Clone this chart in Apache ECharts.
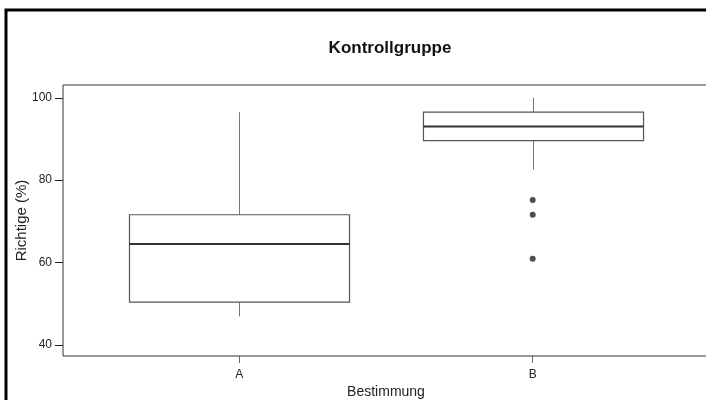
<!DOCTYPE html>
<html>
<head>
<meta charset="utf-8">
<script src="https://cdn.jsdelivr.net/npm/echarts@6/dist/echarts.min.js"></script>
<style>
  html, body { margin: 0; padding: 0; background: #fff; }
  #chart { width: 706px; height: 400px; }
</style>
</head>
<body>
<div id="chart"></div>
<script>
// Daten
var categories = ['A', 'B'];
// [min, Q1, Median, Q3, max]
var boxValues = [
  [46.9, 50.4, 64.5, 71.6, 96.5],
  [82.5, 89.6, 93.0, 96.5, 100.0]
];
// Ausreißer: [Kategorie, Wert]
var outliers = [
  ['B', 75.2],
  ['B', 71.6],
  ['B', 60.9]
];
var yTicks = [40, 60, 80, 100];

var font = 'Liberation Sans, Arial, sans-serif';
var yMin = 37.3, yMax = 103.1;

var boxData = boxValues.map(function (v, i) {
  return [i].concat(v);
});

// Box mit Whiskern ohne Querstriche
function renderBox(params, api) {
  var x = api.value(0);
  var lo = api.coord([x, api.value(1)]);
  var q1 = api.coord([x, api.value(2)]);
  var med = api.coord([x, api.value(3)]);
  var q3 = api.coord([x, api.value(4)]);
  var hi = api.coord([x, api.value(5)]);
  var half = api.size([1, 0])[0] * 0.75 / 2;
  var cx = Math.round(lo[0]) + 0.5;
  return {
    type: 'group',
    children: [
      { type: 'line', shape: { x1: cx, y1: hi[1], x2: cx, y2: q3[1] }, style: { stroke: '#777', lineWidth: 1 } },
      { type: 'line', shape: { x1: cx, y1: q1[1], x2: cx, y2: lo[1] }, style: { stroke: '#777', lineWidth: 1 } },
      { type: 'rect', shape: { x: cx - half, y: q3[1], width: half * 2, height: q1[1] - q3[1] },
        style: { fill: '#fff', stroke: '#555', lineWidth: 1.2 } },
      { type: 'line', shape: { x1: cx - half, y1: med[1], x2: cx + half, y2: med[1] }, style: { stroke: '#333', lineWidth: 2 } }
    ]
  };
}

var option = {
  backgroundColor: '#fff',
  animation: false,
  title: {
    text: 'Kontrollgruppe',
    left: 385,
    top: 35,
    textAlign: 'center',
    textStyle: { fontFamily: font, fontSize: 17, fontWeight: 'bold', color: '#111' }
  },
  graphic: [
    { type: 'rect', shape: { x: 6, y: 10, width: 740, height: 440 },
      style: { fill: null, stroke: '#000', lineWidth: 3 }, silent: true }
  ],
  grid: [
    // Rahmen
    { left: 63, right: -3, top: 85, bottom: 44, show: true, borderColor: '#333', borderWidth: 1,
      containLabel: false, outerBoundsMode: 'none' },
    // Boxen
    { left: 92.6, right: 26.6, top: 85, bottom: 44, containLabel: false, outerBoundsMode: 'none' }
  ],
  xAxis: [
    { gridIndex: 0, type: 'value', show: false, min: 0, max: 1 },
    {
      gridIndex: 1, type: 'category', data: categories,
      name: 'Bestimmung', nameLocation: 'middle', nameGap: 29, nameMoveOverlap: false,
      nameTextStyle: { fontFamily: font, fontSize: 14, color: '#222' },
      axisLine: { show: false },
      axisTick: { show: true, alignWithLabel: true, length: 7, lineStyle: { color: '#666' } },
      axisLabel: { fontFamily: font, fontSize: 12, color: '#222', margin: 13 },
      splitLine: { show: false }
    }
  ],
  yAxis: [
    {
      gridIndex: 0, type: 'value', min: yMin, max: yMax,
      name: 'Richtige (%)', nameLocation: 'middle', nameGap: 34, nameMoveOverlap: false,
      nameTextStyle: { fontFamily: font, fontSize: 15, color: '#222' },
      axisLine: { show: false },
      axisTick: { show: true, length: 8, customValues: yTicks, lineStyle: { color: '#222' } },
      axisLabel: { fontFamily: font, fontSize: 12, color: '#222', margin: 11, customValues: yTicks },
      splitLine: { show: false }
    },
    { gridIndex: 1, type: 'value', min: yMin, max: yMax, show: false }
  ],
  series: [
    {
      type: 'custom',
      xAxisIndex: 1, yAxisIndex: 1,
      renderItem: renderBox,
      encode: { x: 0, y: [1, 2, 3, 4, 5] },
      data: boxData
    },
    {
      type: 'scatter',
      xAxisIndex: 1, yAxisIndex: 1,
      symbolSize: 6,
      itemStyle: { color: '#222' },
      data: outliers
    }
  ]
};

var myChart = echarts.init(document.getElementById('chart'));
myChart.setOption(option);
</script>
</body>
</html>
